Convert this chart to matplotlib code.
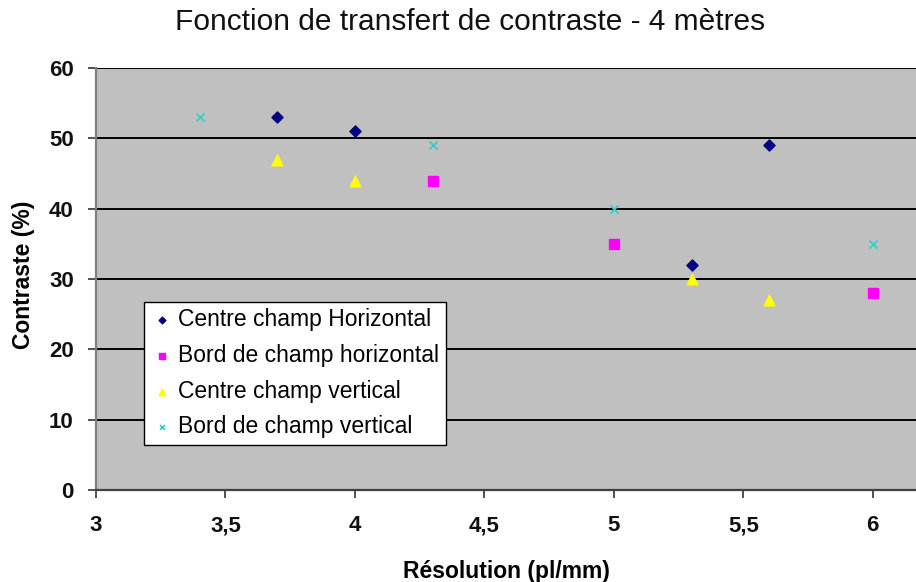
import matplotlib.pyplot as plt

plt.rcParams['font.family'] = ['Liberation Sans', 'DejaVu Sans']

# données
x_chh = [3.7, 4.0, 5.3, 5.6]
y_chh = [53, 51, 32, 49]
x_bch = [4.3, 5.0, 6.0]
y_bch = [44, 35, 28]
x_ccv = [3.7, 4.0, 5.3, 5.6]
y_ccv = [47, 44, 30, 27]
x_bcv = [3.4, 4.3, 5.0, 6.0]
y_bcv = [53, 49, 40, 35]

xticks = [3, 3.5, 4, 4.5, 5, 5.5, 6]
xtick_labels = ['3', '3,5', '4', '4,5', '5', '5,5', '6']
yticks = [0, 10, 20, 30, 40, 50, 60]

fig = plt.figure(figsize=(9.16, 5.82), dpi=100)
ax = fig.add_axes([0.1048, 0.158, 0.8952, 0.725])
ax.set_facecolor('#C0C0C0')

ax.scatter(x_chh, y_chh, marker='D', s=32, color='#000080', label='Centre champ Horizontal', zorder=3)
ax.scatter(x_bch, y_bch, marker='s', s=48, color='#FF00FF', label='Bord de champ horizontal', zorder=3)
ax.scatter(x_ccv, y_ccv, marker='^', s=60, color='#FFFF00', label='Centre champ vertical', zorder=3)
ax.scatter(x_bcv, y_bcv, marker='x', s=34, color='#33CCCC', linewidths=1.2,
           label='Bord de champ vertical', zorder=3)

ax.set_xlim(3, 6.167)
ax.set_ylim(0, 60)
ax.set_xticks(xticks)
ax.set_xticklabels(xtick_labels)
ax.set_yticks(yticks)
for y in yticks[1:]:
    ax.axhline(y, color='black', lw=1.4, zorder=1)

for s in ['top', 'right']:
    ax.spines[s].set_visible(False)
ax.spines['left'].set_color('#808080')
ax.spines['left'].set_linewidth(1.6)
ax.spines['bottom'].set_color('#404040')
ax.spines['bottom'].set_linewidth(1.6)

ax.tick_params(axis='x', direction='out', length=6, width=1.2, color='#333333', pad=12)
ax.tick_params(axis='y', direction='out', length=6, width=1.2, color='#333333', pad=10)
for lab in ax.get_xticklabels() + ax.get_yticklabels():
    lab.set_fontsize(16)
    lab.set_fontweight('bold')
    lab.set_color('#111111')

ax.set_xlabel('Résolution (pl/mm)', fontsize=16.5, fontweight='bold')
ax.set_ylabel('Contraste (%)', fontsize=16.5, fontweight='bold')
ax.xaxis.set_label_coords(0.5, -0.166)
ax.yaxis.set_label_coords(-0.074, 0.51)
fig.text(0.513, 0.962, 'Fonction de transfert de contraste - 4 mètres',
         fontsize=21.5, ha='center', va='center', color='#111111')

leg = ax.legend(loc='lower left', bbox_to_anchor=(0.0585, 0.1066), fontsize=16.5,
                frameon=True, fancybox=False, framealpha=1, edgecolor='black',
                handletextpad=0.2, handlelength=1.0, borderpad=0.3,
                labelspacing=0.55, markerscale=0.6, borderaxespad=0)
leg.get_frame().set_linewidth(1.0)

fig.savefig('out.png', dpi=100)
